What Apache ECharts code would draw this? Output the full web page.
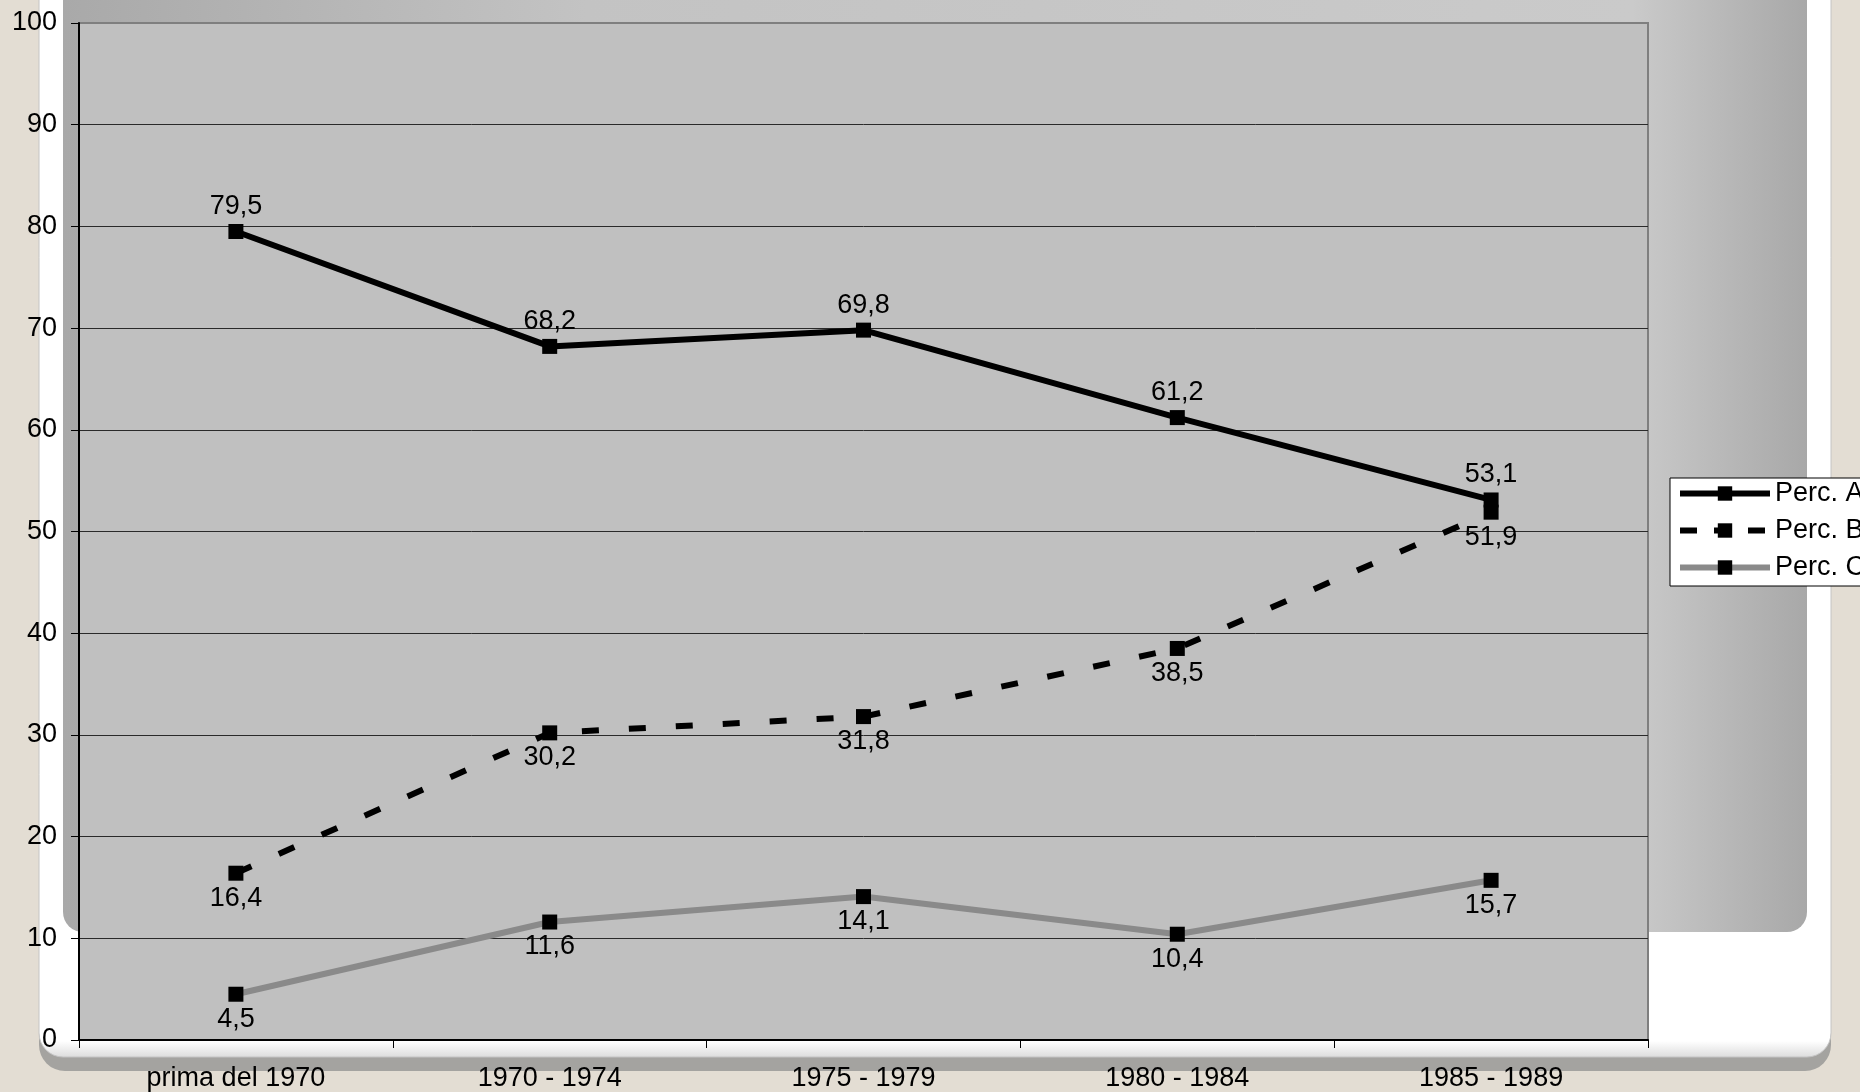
<!DOCTYPE html>
<html>
<head>
<meta charset="utf-8">
<script src="https://cdn.jsdelivr.net/npm/echarts@6/dist/echarts.min.js"></script>
<style>
html,body{margin:0;padding:0;background:#e3ddd3;}
#chart{width:1860px;height:1092px;}
</style>
</head>
<body>
<div id="chart"></div>
<script>
var categories = ['prima del 1970', '1970 - 1974', '1975 - 1979', '1980 - 1984', '1985 - 1989'];
var seriesNames = ['Perc. A', 'Perc. B', 'Perc. C'];
var percA = [79.5, 68.2, 69.8, 61.2, 53.1];
var percB = [16.4, 30.2, 31.8, 38.5, 51.9];
var percC = [4.5, 11.6, 14.1, 10.4, 15.7];
var yTicks = [0, 10, 20, 30, 40, 50, 60, 70, 80, 90, 100];

var FONT = '"Liberation Sans", Arial, sans-serif';
var FS = 27;
var lineColors = ['#000000', '#000000', '#8a8a8a'];
var lineTypes = ['solid', [17, 30], 'solid'];
var legendDash = ['solid', [17, 17], 'solid'];

function fmt(p) { return p.value.toFixed(1).replace('.', ','); }

function mkSeries(i, data, labelPos) {
  return {
    name: seriesNames[i],
    type: 'line',
    data: data,
    symbol: 'rect',
    symbolSize: 15,
    showAllSymbol: true,
    itemStyle: { color: '#000' },
    lineStyle: { color: lineColors[i], width: 6, type: lineTypes[i] },
    label: {
      show: true, position: labelPos, distance: 4,
      color: '#000', fontSize: FS, fontFamily: FONT,
      formatter: fmt
    },
    emphasis: { disabled: true },
    animation: false
  };
}

var chart = echarts.init(document.getElementById('chart'), null, { renderer: 'canvas' });
chart.setOption({
  backgroundColor: '#e3ddd3',
  animation: false,
  graphic: { elements: [
    { type: 'rect', z: -30, silent: true,
      shape: { x: 39, y: -40, width: 1792, height: 1111, r: 26 },
      style: { fill: '#a4a3a0' } },
    { type: 'rect', z: -20, silent: true,
      shape: { x: 39, y: -40, width: 1792, height: 1097, r: 24 },
      style: {
        fill: { type: 'linear', x: 0, y: 0, x2: 0, y2: 1, colorStops: [
          { offset: 0, color: '#ffffff' }, { offset: 0.985, color: '#ffffff' }, { offset: 1, color: '#dcdcdc' }] },
        stroke: '#c4c4c4', lineWidth: 1 } },
    { type: 'rect', z: -10, silent: true,
      shape: { x: 63, y: -40, width: 1744, height: 972, r: 20 },
      style: {
        fill: { type: 'linear', x: 0, y: 0, x2: 1, y2: 0, colorStops: [
          { offset: 0, color: '#a9a9a9' }, { offset: 0.3, color: '#c3c3c3' },
          { offset: 0.9, color: '#cacaca' }, { offset: 1, color: '#a8a8a8' }] } } }
  ]},
  grid: {
    left: 79, right: 212, top: 23, bottom: 49,
    show: true, backgroundColor: '#c0c0c0', borderColor: '#7f7f7f', borderWidth: 2
  },
  legend: {
    data: seriesNames.map(function (n, i) {
      return { name: n, lineStyle: { color: lineColors[i], width: 6, type: legendDash[i] }, itemStyle: { color: '#000' } };
    }),
    orient: 'vertical',
    left: 1670, top: 478,
    padding: [2, 12, 5, 7],
    itemGap: 10,
    itemWidth: 90, itemHeight: 18,
    backgroundColor: '#ffffff',
    borderColor: '#000', borderWidth: 1, borderRadius: 0,
    textStyle: { color: '#000', fontSize: FS, fontFamily: FONT, lineHeight: 27 },
    selectedMode: false
  },
  xAxis: {
    type: 'category',
    data: categories,
    boundaryGap: true,
    axisLine: { show: true, lineStyle: { color: '#000', width: 2 } },
    axisTick: { show: true, length: 8, interval: 0, lineStyle: { color: '#000', width: 1 } },
    axisLabel: { interval: 0, color: '#000', fontSize: FS, fontFamily: FONT, margin: 25 },
    splitLine: { show: false }
  },
  yAxis: {
    type: 'value',
    min: yTicks[0], max: yTicks[yTicks.length - 1], interval: yTicks[1] - yTicks[0],
    axisLine: { show: true, lineStyle: { color: '#000', width: 2 } },
    axisTick: { show: true, length: 8, lineStyle: { color: '#000', width: 1 } },
    axisLabel: { color: '#000', fontSize: FS, fontFamily: FONT, margin: 22 },
    splitLine: { show: true, showMinLine: false, showMaxLine: false, lineStyle: { color: '#2a2a2a', width: 1 } }
  },
  series: [
    mkSeries(0, percA, 'top'),
    mkSeries(1, percB, 'bottom'),
    mkSeries(2, percC, 'bottom')
  ]
});
</script>
</body>
</html>
